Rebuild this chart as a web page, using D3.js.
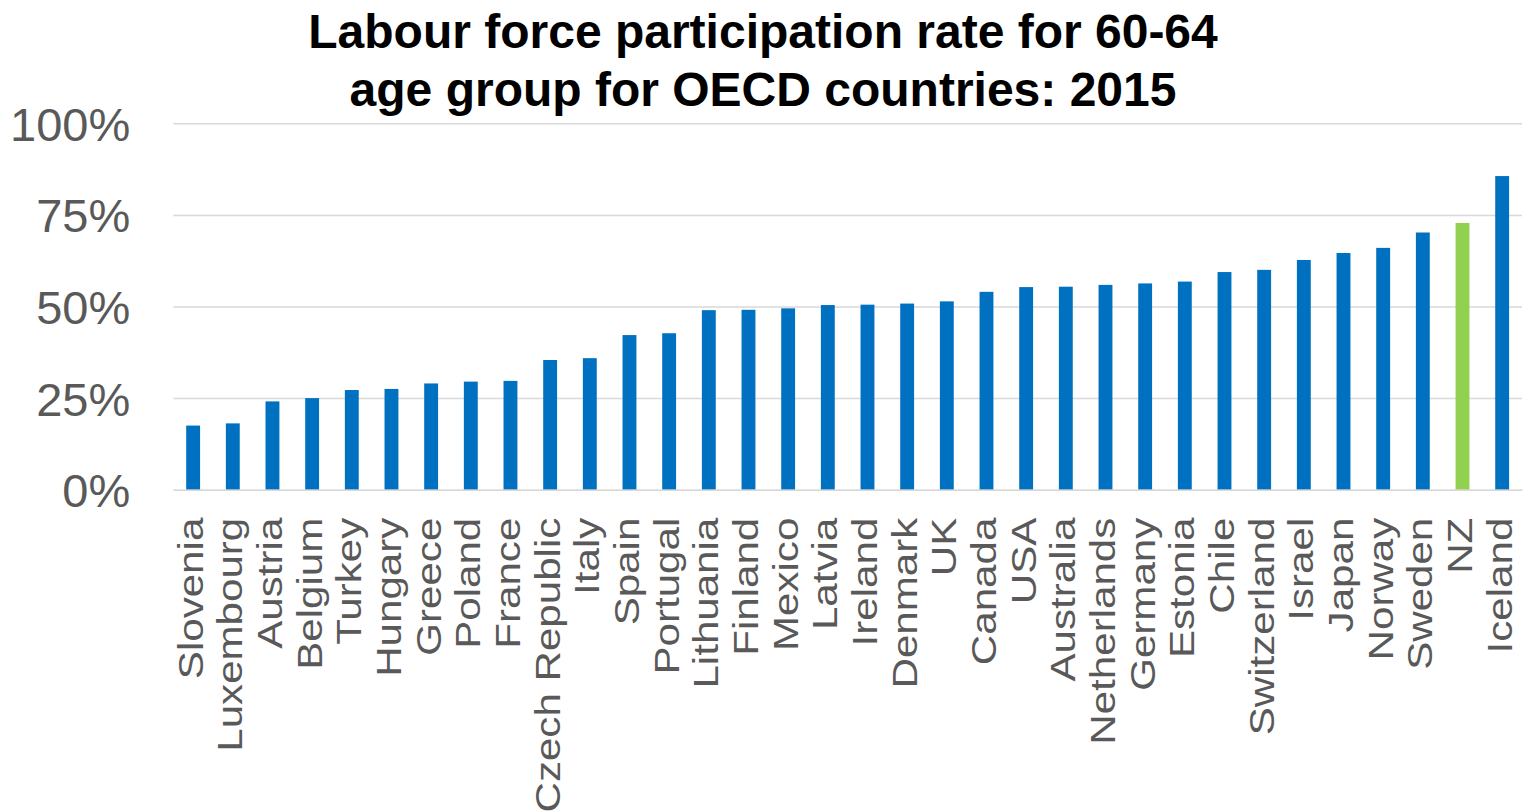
<!DOCTYPE html>
<html>
<head>
<meta charset="utf-8">
<script src="https://cdn.jsdelivr.net/npm/d3@7"></script>
<style>
  html, body { margin: 0; padding: 0; background: #fff; }
  svg { display: block; }
</style>
</head>
<body>
<svg id="chart" width="1527" height="812"></svg>
<script>
const titleLines = ["Labour force participation rate for 60-64", "age group for OECD countries: 2015"];
const countries = ["Slovenia","Luxembourg","Austria","Belgium","Turkey","Hungary","Greece","Poland","France","Czech Republic","Italy","Spain","Portugal","Lithuania","Finland","Mexico","Latvia","Ireland","Denmark","UK","Canada","USA","Australia","Netherlands","Germany","Estonia","Chile","Switzerland","Israel","Japan","Norway","Sweden","NZ","Iceland"];
const rates = [0.175,0.181,0.241,0.250,0.272,0.275,0.290,0.295,0.297,0.354,0.359,0.422,0.427,0.490,0.491,0.495,0.504,0.505,0.508,0.514,0.540,0.553,0.554,0.559,0.563,0.568,0.594,0.600,0.627,0.646,0.660,0.702,0.728,0.856];
const highlighted = ["NZ"];
const yTicks = [0, 0.25, 0.5, 0.75, 1];

(function () {
  const svg = d3.select("#chart");
  const mLeft = 173.3, mRight = 1522, mTop = 123.3, mBottom = 489.7;

  const x = d3.scaleBand().domain(countries).range([mLeft, mRight]).paddingInner(0.65).paddingOuter(0.325);
  const y = d3.scaleLinear().domain([0, 1]).range([mBottom, mTop]);

  // gridlines + y labels
  const yAxis = svg.append("g")
    .attr("transform", `translate(${mLeft},0)`)
    .call(d3.axisLeft(y).tickValues(yTicks).tickFormat(d3.format(".0%")).tickSize(-(mRight - mLeft)).tickPadding(43));
  yAxis.select(".domain").remove();
  yAxis.selectAll(".tick line").attr("stroke", "#d9d9d9").attr("stroke-width", 1.5);
  yAxis.selectAll(".tick text")
    .attr("fill", "#595959")
    .attr("font-family", "Liberation Sans, Arial, sans-serif")
    .attr("font-size", 47)
    .attr("dy", "0.36em");

  // bars
  svg.append("g").selectAll("rect")
    .data(countries)
    .join("rect")
    .attr("x", d => x(d))
    .attr("width", x.bandwidth())
    .attr("y", (d, i) => y(rates[i]))
    .attr("height", (d, i) => y(0) - y(rates[i]))
    .attr("fill", d => highlighted.includes(d) ? "#92D050" : "#0070C0");

  // x axis labels
  const xAxis = svg.append("g")
    .attr("transform", `translate(0,${mBottom})`)
    .call(d3.axisBottom(x).tickSize(0));
  xAxis.select(".domain").attr("stroke", "#d9d9d9").attr("stroke-width", 1.5);
  xAxis.selectAll(".tick text")
    .attr("fill", "#595959")
    .attr("font-family", "Liberation Sans, Arial, sans-serif")
    .attr("font-size", 36)
    .attr("text-anchor", "end")
    .attr("x", 0).attr("y", 0).attr("dy", 0)
    .attr("transform", "translate(9.5,28) rotate(-90) scale(1.17,1)");

  // title
  svg.append("text")
    .attr("font-family", "Liberation Sans, Arial, sans-serif")
    .attr("font-weight", "bold")
    .attr("font-size", 48)
    .attr("fill", "#000")
    .attr("text-anchor", "middle")
    .selectAll("tspan")
    .data(titleLines)
    .join("tspan")
    .attr("x", 763)
    .attr("y", (d, i) => 48 + i * 58)
    .text(d => d);
})();
</script>
</body>
</html>
